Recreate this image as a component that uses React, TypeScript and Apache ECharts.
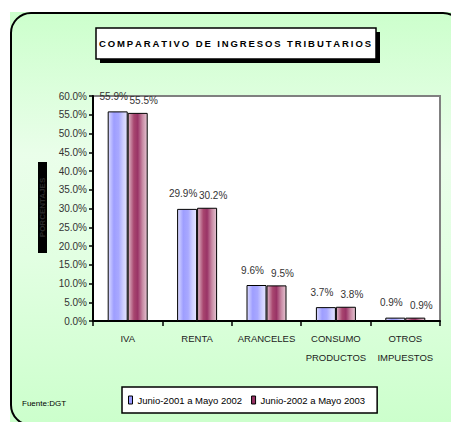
import React, { useEffect, useRef } from "react";
import * as echarts from "echarts";

const categories = ["IVA", "RENTA", "ARANCELES", "CONSUMO\nPRODUCTOS", "OTROS\nIMPUESTOS"];
const seriesNames = ["Junio-2001 a Mayo 2002", "Junio-2002 a Mayo 2003"];
const period2001 = [55.9, 29.9, 9.6, 3.7, 0.9];
const period2002 = [55.5, 30.2, 9.5, 3.8, 0.9];
const yTicks = { min: 0, max: 60, interval: 5 };
const titleText = "COMPARATIVO DE INGRESOS TRIBUTARIOS";
const yAxisName = "PORCENTAJES";
const sourceText = "Fuente:DGT";

const FONT = "Liberation Sans, Arial, sans-serif";

// spread the title letters apart with thin spaces
const spaced = (s: string) => s.split("").join("\u2009");

const barGradient = (stops: [number, string][]) =>
  new echarts.graphic.LinearGradient(
    0, 0, 1, 0,
    stops.map(([offset, color]) => ({ offset, color }))
  );

const valueLabel = (offset: [number, number]) => ({
  show: true,
  position: "top" as const,
  distance: 10,
  offset,
  fontFamily: FONT,
  fontSize: 10,
  color: "#333",
  formatter: (p: any) => `${Number(p.value).toFixed(1)}%`,
});

export default function App() {
  const ref = useRef<HTMLDivElement>(null);

  useEffect(() => {
    if (!ref.current) return;
    const chart = echarts.init(ref.current, null, { renderer: "svg" });

    const blueFill = barGradient([
      [0, "#dcdcff"],
      [0.3, "#9e9eff"],
      [0.55, "#a8a8ff"],
      [0.8, "#d0d0ff"],
      [1, "#e4e4ff"],
    ]);
    const maroonFill = barGradient([
      [0, "#e0b8c8"],
      [0.3, "#a8466f"],
      [0.5, "#993366"],
      [0.75, "#c88aa4"],
      [1, "#e6c6d3"],
    ]);

    chart.setOption({
      animation: false,
      textStyle: { fontFamily: FONT },
      grid: {
        left: 93,
        top: 96,
        right: 11,
        bottom: 101,
        show: true,
        backgroundColor: "#ffffff",
        borderColor: "#808080",
        borderWidth: 2,
      },
      legend: {
        left: 122,
        top: 387,
        orient: "horizontal",
        icon: "rect",
        itemWidth: 4,
        itemHeight: 8,
        itemGap: 9,
        padding: [8, 12, 8, 6],
        backgroundColor: "#ffffff",
        borderColor: "#000000",
        borderWidth: 1.5,
        textStyle: { fontFamily: FONT, fontSize: 9.5, color: "#000" },
        data: [
          { name: seriesNames[0], itemStyle: { color: "#9999ff", borderColor: "#000", borderWidth: 1 } },
          { name: seriesNames[1], itemStyle: { color: "#993366", borderColor: "#000", borderWidth: 1 } },
        ],
      },
      xAxis: {
        type: "category",
        data: categories,
        axisLine: { lineStyle: { color: "#000", width: 2 } },
        axisTick: { show: true, interval: 0, length: 5, lineStyle: { color: "#000", width: 1.5 } },
        axisLabel: {
          interval: 0,
          margin: 8,
          fontFamily: FONT,
          fontSize: 9.5,
          color: "#222",
          lineHeight: 19,
        },
      },
      yAxis: {
        type: "value",
        min: yTicks.min,
        max: yTicks.max,
        interval: yTicks.interval,
        axisLine: { show: true, lineStyle: { color: "#000", width: 2 } },
        axisTick: { show: true, length: 4, lineStyle: { color: "#000", width: 1.5 } },
        splitLine: { show: false },
        axisLabel: {
          margin: 6,
          fontFamily: FONT,
          fontSize: 10,
          color: "#333",
          formatter: (v: number) => `${v.toFixed(1)}%`,
        },
      },
      series: [
        {
          name: seriesNames[0],
          type: "bar",
          data: period2001,
          barWidth: 20,
          barGap: "0%",
          itemStyle: { color: blueFill, borderColor: "#000", borderWidth: 1 },
          label: valueLabel([-4, 0]),
        },
        {
          name: seriesNames[1],
          type: "bar",
          data: period2002,
          barWidth: 20,
          barGap: "0%",
          itemStyle: { color: maroonFill, borderColor: "#000", borderWidth: 1 },
          label: valueLabel([6, 3]),
        },
      ],
      graphic: [
        // panel background
        {
          type: "rect",
          z: -100,
          shape: { x: 10, y: 12, width: 441, height: 410 },
          style: {
            fill: new echarts.graphic.LinearGradient(0, 0, 0, 1, [
              { offset: 0, color: "#ccffcc" },
              { offset: 0.35, color: "#eafeea" },
              { offset: 0.6, color: "#e2ffe2" },
              { offset: 1, color: "#ccffcc" },
            ]),
          },
          silent: true,
        },
        // rounded panel frame
        {
          type: "rect",
          z: 100,
          shape: { x: 11, y: 13, width: 452, height: 412, r: 20 },
          style: { fill: "none", stroke: "#000", lineWidth: 2 },
          silent: true,
        },
        // title box with drop shadow
        {
          type: "rect",
          z: 100,
          shape: { x: 100, y: 32, width: 280, height: 31 },
          style: { fill: "#000" },
          silent: true,
        },
        {
          type: "rect",
          z: 101,
          shape: { x: 96, y: 28, width: 280, height: 31 },
          style: { fill: "#fff", stroke: "#000", lineWidth: 1.5 },
          silent: true,
        },
        {
          type: "text",
          z: 102,
          x: 235,
          y: 43.5,
          style: {
            text: spaced(titleText),
            fontFamily: FONT,
            fontSize: 9.5,
            fontWeight: "bold",
            fill: "#000",
            align: "center",
            verticalAlign: "middle",
          },
          silent: true,
        },
        // y axis name box
        {
          type: "rect",
          z: 100,
          shape: { x: 38, y: 162, width: 9, height: 91 },
          style: { fill: "#000" },
          silent: true,
        },
        {
          type: "text",
          z: 101,
          x: 42.5,
          y: 207.5,
          rotation: Math.PI / 2,
          style: {
            text: yAxisName,
            fontFamily: FONT,
            fontSize: 8,
            fontWeight: "bold",
            fill: "#2c2c2c",
            align: "center",
            verticalAlign: "middle",
          },
          silent: true,
        },
        // source note
        {
          type: "text",
          z: 100,
          x: 22,
          y: 403,
          style: {
            text: sourceText,
            fontFamily: FONT,
            fontSize: 8,
            fill: "#000",
            align: "left",
            verticalAlign: "middle",
          },
          silent: true,
        },
      ],
    });

    return () => chart.dispose();
  }, []);

  return (
    <div
      ref={ref}
      style={{ position: "fixed", left: 0, top: 0, width: 451, height: 422, background: "#fff" }}
    />
  );
}
